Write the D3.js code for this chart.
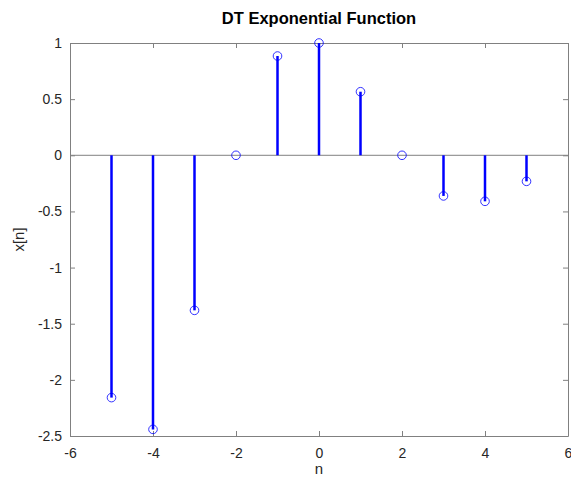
<!DOCTYPE html>
<html><head><meta charset="utf-8">
<script src="https://cdn.jsdelivr.net/npm/d3@7"></script>
<style>body{margin:0;background:#fff}svg{display:block}</style>
</head><body>
<script>
const nValues = [-5,-4,-3,-2,-1,0,1,2,3,4,5];
const xValues = [-2.158,-2.441,-1.381,0,0.884,1,0.566,0,-0.362,-0.410,-0.232];
const xTicks = [-6,-4,-2,0,2,4,6];
const yTicks = [-2.5,-2,-1.5,-1,-0.5,0,0.5,1];
const titleText = "DT Exponential Function";
const xLabel = "n", yLabel = "x[n]";

const W=571,H=477;
const m={left:70,right:3,top:43,bottom:41};
const svg=d3.select("body").append("svg").attr("width",W).attr("height",H);
const x=d3.scaleLinear().domain([-6,6]).range([m.left,W-m.right]);
const y=d3.scaleLinear().domain([-2.5,1]).range([H-m.bottom,m.top]);
const axCol="#262626", boxCol="#808080";
const font="'Liberation Sans', Arial, sans-serif";

function styleAxis(g){
  g.select(".domain").attr("stroke",boxCol);
  g.selectAll(".tick line").attr("stroke",boxCol);
  g.selectAll(".tick text").attr("fill",axCol).attr("font-size",14).attr("font-family",font);
}
const fmt=d=>String(d);
svg.append("g").attr("transform",`translate(0,${y(-2.5)})`)
  .call(d3.axisBottom(x).tickValues(xTicks).tickFormat(fmt).tickSizeInner(-5).tickSizeOuter(0).tickPadding(12))
  .call(styleAxis);
svg.append("g").attr("transform",`translate(0,${y(1)})`)
  .call(d3.axisTop(x).tickValues(xTicks).tickFormat("").tickSizeInner(-5).tickSizeOuter(0))
  .call(styleAxis);
svg.append("g").attr("transform",`translate(${x(-6)},0)`)
  .call(d3.axisLeft(y).tickValues(yTicks).tickFormat(fmt).tickSizeInner(-5).tickSizeOuter(0).tickPadding(8))
  .call(styleAxis);
svg.append("g").attr("transform",`translate(${x(6)},0)`)
  .call(d3.axisRight(y).tickValues(yTicks).tickFormat("").tickSizeInner(-5).tickSizeOuter(0))
  .call(styleAxis);

// baseline
svg.append("line").attr("x1",x(-6)).attr("x2",x(6)).attr("y1",y(0)).attr("y2",y(0))
  .attr("stroke",boxCol).attr("stroke-width",1);

const data=nValues.map((n,i)=>({n,v:xValues[i]}));
svg.append("g").selectAll("line").data(data).join("line")
  .attr("x1",d=>x(d.n)).attr("x2",d=>x(d.n)).attr("y1",y(0)).attr("y2",d=>y(d.v))
  .attr("stroke","#0000ff").attr("stroke-width",2.5);
svg.append("g").selectAll("circle").data(data).join("circle")
  .attr("cx",d=>x(d.n)).attr("cy",d=>y(d.v)).attr("r",4.3)
  .attr("fill","none").attr("stroke","#0000ff").attr("stroke-width",0.8);

svg.append("text").attr("x",(x(-6)+x(6))/2).attr("y",24).attr("text-anchor","middle")
  .attr("font-family",font).attr("font-weight","bold").attr("font-size",16.5).attr("fill","#000").text(titleText);
svg.append("text").attr("x",(x(-6)+x(6))/2).attr("y",474).attr("text-anchor","middle")
  .attr("font-family",font).attr("font-size",15).attr("fill",axCol).text(xLabel);
svg.append("text").attr("transform",`translate(24,${(y(-2.5)+y(1))/2}) rotate(-90)`).attr("text-anchor","middle")
  .attr("font-family",font).attr("font-size",15).attr("fill",axCol).text(yLabel);
</script>
</body></html>
